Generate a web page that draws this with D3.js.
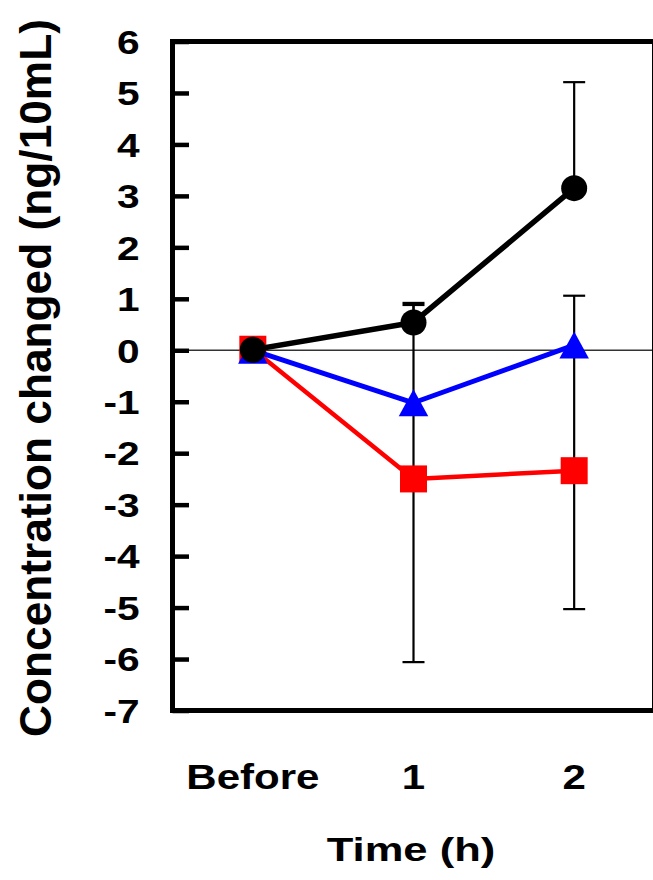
<!DOCTYPE html>
<html>
<head>
<meta charset="utf-8">
<script src="https://cdn.jsdelivr.net/npm/d3@7"></script>
<style>
  html, body { margin: 0; padding: 0; background: #fff; }
  svg { display: block; }
</style>
</head>
<body>
<svg id="chart" width="653" height="880"></svg>
<script>
// Sampling times on the x axis
const times = ["Before", "1", "2"];

// Y axis ticks
const yTicks = [6, 5, 4, 3, 2, 1, 0, -1, -2, -3, -4, -5, -6, -7];

// Mean change per group (ng/10mL)
const circleMean = [0.01, 0.54, 3.15];
const squareMean = [0.02, -2.50, -2.34];
const triangleMean = [0.00, -1.02, 0.10];

// Error bar extents above / below each mean
const circleErrUp = [0, 0.34, 2.06];
const circleErrDown = [0, 0, 0];
const squareErrUp = [0, 3.42, 3.40];
const squareErrDown = [0, 3.56, 2.69];
const triangleErrUp = [0, 0, 0];
const triangleErrDown = [0, 0, 0];

// Pick the first installed Arial-metric sans face
function pickFont(candidates) {
  const ctx = document.createElement("canvas").getContext("2d");
  const probe = "Before 1234567890 mlwi";
  for (const f of candidates) {
    for (const base of ["monospace", "serif"]) {
      ctx.font = `bold 40px ${base}`;
      const w0 = ctx.measureText(probe).width;
      ctx.font = `bold 40px "${f}", ${base}`;
      if (ctx.measureText(probe).width !== w0) return `"${f}"`;
    }
  }
  return "sans-serif";
}
const fontFamily = pickFont(["Liberation Sans", "Arimo", "Arial", "Helvetica", "Roboto", "Inter"]);

const svg = d3.select("#chart");

const plotLeft = 172.5, plotRight = 654.5, plotTop = 41.5, plotBottom = 710.5;

const x = d3.scalePoint().domain(times).range([plotLeft, plotRight]).padding(0.5);
const y = d3.scaleLinear().domain([-7, 6]).range([plotBottom, plotTop]);

// Thin reference line at zero
svg.append("line")
  .attr("x1", plotLeft).attr("x2", plotRight)
  .attr("y1", y(0)).attr("y2", y(0))
  .attr("stroke", "#333").attr("stroke-width", 1.3);

// Left axis with inward ticks
const tickLen = 16.5;
const labelPad = 33;
const sx = 1.25;
const yAxis = svg.append("g")
  .attr("transform", `translate(${plotLeft},0)`)
  .call(d3.axisLeft(y).tickValues(yTicks).tickSize(-tickLen).tickPadding(labelPad).tickFormat(d => String(d)));
yAxis.attr("font-family", fontFamily).attr("font-size", null).attr("font-weight", "bold");
yAxis.select(".domain").remove();
yAxis.selectAll(".tick line").attr("stroke", "#000").attr("stroke-width", 4.5);
yAxis.selectAll(".tick text")
  .attr("x", -labelPad / sx)
  .attr("dy", null)
  .attr("y", 11.8)
  .attr("transform", `scale(${sx},1)`)
  .attr("font-size", 32.5)
  .attr("fill", "#000");

// Plot frame
svg.append("rect")
  .attr("x", plotLeft).attr("y", plotTop)
  .attr("width", plotRight - plotLeft).attr("height", plotBottom - plotTop)
  .attr("fill", "none").attr("stroke", "#000").attr("stroke-width", 5);

// X category labels
svg.append("g")
  .attr("font-family", fontFamily).attr("font-weight", "bold")
  .selectAll("text")
  .data(times)
  .join("text")
  .attr("transform", d => `translate(${x(d)},789) scale(1.2,1)`)
  .attr("text-anchor", "middle")
  .attr("font-size", 35)
  .text(d => d);

// Axis titles
svg.append("text")
  .attr("font-family", fontFamily).attr("font-weight", "bold")
  .attr("transform", `translate(411,861) scale(1.28,1)`)
  .attr("text-anchor", "middle")
  .attr("font-size", 34)
  .text("Time (h)");

svg.append("text")
  .attr("font-family", fontFamily).attr("font-weight", "bold")
  .attr("transform", "translate(51,378) rotate(-90)")
  .attr("text-anchor", "middle")
  .attr("textLength", 718)
  .attr("lengthAdjust", "spacingAndGlyphs")
  .attr("font-size", 45)
  .text("Concentration changed (ng/10mL)");

const groups = [
  { mean: squareMean, up: squareErrUp, down: squareErrDown, color: "#ff0000", width: 4.5, shape: "square" },
  { mean: triangleMean, up: triangleErrUp, down: triangleErrDown, color: "#0000ff", width: 5, shape: "triangle" },
  { mean: circleMean, up: circleErrUp, down: circleErrDown, color: "#000000", width: 5.5, shape: "circle" }
];

// Error bars beneath the markers
const capHalf = 11;
groups.forEach(g => {
  const eg = svg.append("g").attr("stroke", "#000").attr("stroke-width", 2.2).attr("fill", "none");
  times.forEach((t, i) => {
    const cx = x(t);
    const hi = g.mean[i] + g.up[i];
    const lo = g.mean[i] - g.down[i];
    if (g.up[i] > 0) {
      eg.append("line").attr("x1", cx).attr("x2", cx).attr("y1", y(g.mean[i])).attr("y2", y(hi));
      eg.append("line").attr("x1", cx - capHalf).attr("x2", cx + capHalf).attr("y1", y(hi)).attr("y2", y(hi));
    }
    if (g.down[i] > 0) {
      eg.append("line").attr("x1", cx).attr("x2", cx).attr("y1", y(g.mean[i])).attr("y2", y(lo));
      eg.append("line").attr("x1", cx - capHalf).attr("x2", cx + capHalf).attr("y1", y(lo)).attr("y2", y(lo));
    }
  });
});

// Lines and markers
const line = d3.line().x((d, i) => x(times[i])).y(d => y(d));
groups.forEach(g => {
  const sg = svg.append("g");
  sg.append("path")
    .attr("d", line(g.mean))
    .attr("fill", "none")
    .attr("stroke", g.color)
    .attr("stroke-width", g.width)
    .attr("stroke-linejoin", "round");
  g.mean.forEach((v, i) => {
    const cx = x(times[i]), cy = y(v);
    if (g.shape === "circle") {
      sg.append("circle").attr("cx", cx).attr("cy", cy).attr("r", 13).attr("fill", g.color);
    } else if (g.shape === "square") {
      const s = 27;
      sg.append("rect").attr("x", cx - s / 2).attr("y", cy - s / 2).attr("width", s).attr("height", s).attr("fill", g.color);
    } else {
      const w = 29.5, h = 27;
      sg.append("path")
        .attr("d", `M${cx},${cy - h / 2}L${cx + w / 2},${cy + h / 2}L${cx - w / 2},${cy + h / 2}Z`)
        .attr("fill", g.color);
    }
  });
});
</script>
</body>
</html>
